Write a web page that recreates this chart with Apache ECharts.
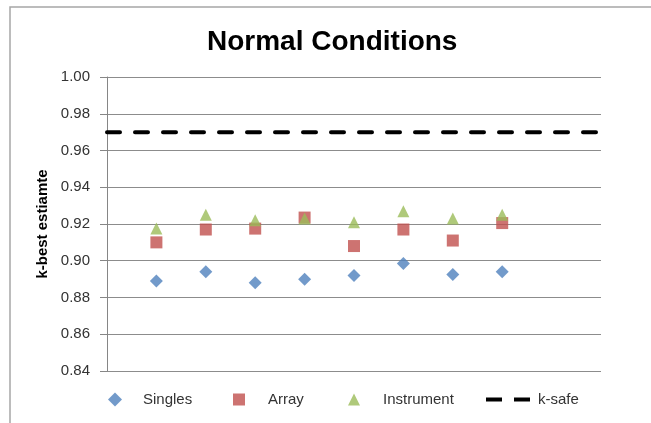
<!DOCTYPE html>
<html>
<head>
<meta charset="utf-8">
<title>Normal Conditions</title>
<script src="https://cdn.jsdelivr.net/npm/echarts@6/dist/echarts.min.js"></script>
<style>
  html, body { margin: 0; padding: 0; background: #ffffff; }
  #chart { width: 651px; height: 423px; }
</style>
</head>
<body>
<div id="chart"></div>
<script>
// Runs 1..8, k-best estimates per configuration
const runs = [1, 2, 3, 4, 5, 6, 7, 8];
const singles    = [0.889, 0.894, 0.888, 0.890, 0.892, 0.8985, 0.8925, 0.894];
const arrayVals  = [0.910, 0.917, 0.9175, 0.9235, 0.908, 0.917, 0.911, 0.9205];
const instrument = [0.9175, 0.925, 0.922, 0.923, 0.921, 0.927, 0.923, 0.925];
const kSafe = 0.97;
const yTicks = { min: 0.84, max: 1.00, step: 0.02 };
const xRange = { min: 0, max: 10 };

const pairs = vals => vals.map((v, i) => [runs[i], v]);

const font = 'Liberation Sans, Arial, sans-serif';
const legendText = { fontFamily: font, fontSize: 15, color: '#333333' };

// two short dashes for the threshold key
const dashIcon = 'path://M0,0H16V4H0ZM28,0H44V4H28Z';

// one legend block per entry so each key sits at its own spot
function legendEntry(name, icon, left, iconWidth, iconHeight, textPad) {
  return {
    left: left,
    top: 387,
    itemWidth: iconWidth,
    itemHeight: iconHeight,
    textStyle: Object.assign({ padding: [0, 0, 0, textPad] }, legendText),
    data: [{ name: name, icon: icon }]
  };
}

const chart = echarts.init(document.getElementById('chart'), null, { renderer: 'canvas' });

chart.setOption({
  backgroundColor: '#ffffff',
  animation: false,
  graphic: [{
    type: 'rect',
    shape: { x: 10, y: 7, width: 700, height: 500 },
    style: { fill: 'none', stroke: '#a6a6a6', lineWidth: 1.5 },
    silent: true
  }],
  title: {
    text: 'Normal Conditions',
    left: 202,
    top: 23,
    textStyle: { fontFamily: font, fontSize: 28, fontWeight: 'bold', color: '#000000' }
  },
  grid: { left: 107, top: 77, width: 494, height: 294, containLabel: false },
  xAxis: {
    type: 'value',
    min: xRange.min,
    max: xRange.max,
    show: false
  },
  yAxis: {
    type: 'value',
    min: yTicks.min,
    max: yTicks.max,
    interval: yTicks.step,
    name: 'k-best estiamte',
    nameLocation: 'middle',
    nameGap: 56,
    nameTextStyle: { fontFamily: font, fontSize: 15, fontWeight: 'bold', color: '#000000' },
    axisLine: { show: true, lineStyle: { color: '#868686', width: 1 } },
    axisTick: { show: true, length: 7, lineStyle: { color: '#868686' } },
    axisLabel: {
      margin: 17,
      fontFamily: font,
      fontSize: 15,
      color: '#333333',
      formatter: v => v.toFixed(2)
    },
    splitLine: { show: true, showMinLine: true, showMaxLine: true, lineStyle: { color: '#8c8c8c', width: 1 } }
  },
  legend: [
    legendEntry('Singles', 'diamond', 103, 14, 14, 16),
    legendEntry('Array', 'rect', 228, 12, 12, 18),
    legendEntry('Instrument', 'triangle', 343, 12, 12, 18),
    legendEntry('k-safe', dashIcon, 481, 44, 12, 3)
  ],
  series: [
    {
      name: 'Singles',
      type: 'scatter',
      symbol: 'diamond',
      symbolSize: 13,
      itemStyle: { color: '#4F81BD' },
      data: pairs(singles)
    },
    {
      name: 'Array',
      type: 'scatter',
      symbol: 'rect',
      symbolSize: 12,
      itemStyle: { color: '#C0504D' },
      data: pairs(arrayVals)
    },
    {
      name: 'Instrument',
      type: 'scatter',
      symbol: 'triangle',
      symbolSize: 12,
      itemStyle: { color: '#9BBB59' },
      data: pairs(instrument)
    },
    {
      name: 'k-safe',
      type: 'line',
      symbol: 'none',
      itemStyle: { color: '#000000' },
      lineStyle: { color: '#000000', width: 4, type: [13, 15], cap: 'round' },
      data: [[xRange.min, kSafe], [xRange.max, kSafe]]
    }
  ]
});
</script>
</body>
</html>
